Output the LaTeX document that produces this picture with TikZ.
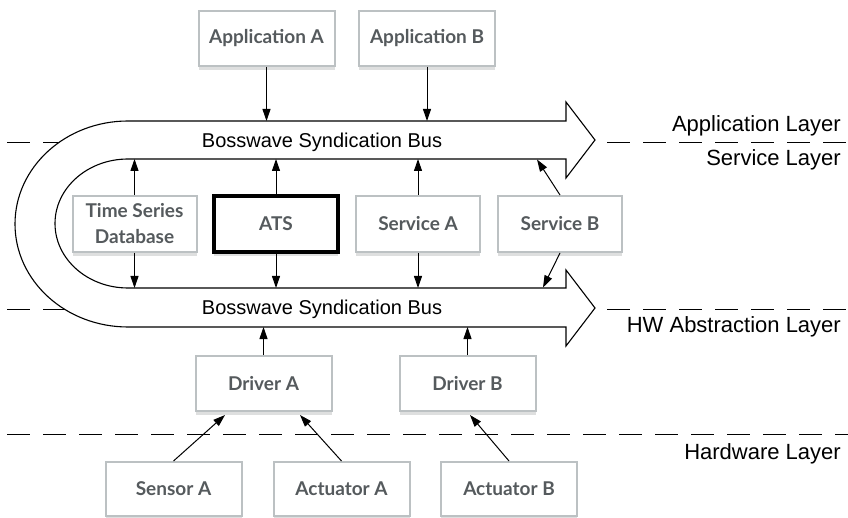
\documentclass[tikz,border=0pt]{standalone}
\usepackage{fontspec}
\setmainfont{Liberation Sans}
\newfontfamily\boxfont{Lato}
\usetikzlibrary{arrows.meta,shadows}
\definecolor{boxgray}{HTML}{BCC1C3}
\definecolor{txtgray}{HTML}{555A5D}
\definecolor{shadgray}{HTML}{DEDFDF}
\begin{document}
\begin{tikzpicture}[x=1pt,y=-1pt,
  blk/.style={draw=boxgray, line width=2pt, fill=white, minimum width=136pt, minimum height=55pt, inner sep=0pt,
    font=\boxfont\bfseries\fontsize{19}{26}\selectfont, text=txtgray, align=center,
    drop shadow={shadow xshift=0pt, shadow yshift=-4pt, fill=shadgray, opacity=1}},
  mid/.style={blk, minimum width=124pt, minimum height=56pt},
  arr/.style={-{Triangle[length=12pt,width=8pt]}, line width=1pt},
  dsh/.style={line width=0.9pt, dash pattern=on 23pt off 13pt},
  lay/.style={font=\fontsize{22}{26}\selectfont, anchor=base east, inner sep=0pt},
  bustxt/.style={font=\fontsize{20}{24}\selectfont, anchor=base, inner sep=0pt}
]
\useasboundingbox (0,0) rectangle (848,518);

% layer separators
\draw[dsh] (7,142) -- (110,142);
\draw[dsh] (607,142) -- (848,142);
\draw[dsh] (7,309.5) -- (110,309.5);
\draw[dsh] (607,309.5) -- (848,309.5);
\draw[dsh] (7,434) -- (848,434);

% U-shaped bus
\draw[line width=1.1pt, fill=white, line join=miter]
  (128,121) -- (566,121) -- (566,102) -- (595,140) -- (566,178) -- (566,159) -- (128,159)
  .. controls (87.7,159) and (55,187.9) .. (55,223.5)
  .. controls (55,259.1) and (87.7,288) .. (128,288)
  -- (566,288) -- (566,270) -- (595,308) -- (566,346) -- (566,327) -- (128,327)
  .. controls (65.6,327) and (15,280.9) .. (15,224)
  .. controls (15,167.1) and (65.6,121) .. (128,121) -- cycle;

\node[bustxt] (bus1) at (322,148) {Bosswave Syndication Bus};
\node[bustxt] (bus2) at (322,315) {Bosswave Syndication Bus};

% layer labels
\node[lay] (l1) at (841,132) {Application Layer};
\node[lay] (l2) at (841,166) {Service Layer};
\node[lay] (l3) at (841,333) {HW Abstraction Layer};
\node[lay] (l4) at (841,459) {Hardware Layer};

% boxes
\node[blk] (appA) at (266.5,38.5) {Application A};
\node[blk] (appB) at (427,38.5) {Application B};
\node[mid] (tsd) at (134.5,224) {Time Series\\Database};
\node[mid, draw=black, line width=4pt] (ats) at (276,224) {ATS};
\node[mid] (srvA) at (418,224) {Service A};
\node[mid] (srvB) at (560,224) {Service B};
\node[blk] (drvA) at (263.5,383.5) {Driver A};
\node[blk] (drvB) at (467.5,383.5) {Driver B};
\node[blk, minimum height=54pt] (senA) at (173.5,489) {Sensor A};
\node[blk, minimum height=54pt] (actA) at (341.5,489) {Actuator A};
\node[blk, minimum height=54pt] (actB) at (509,489) {Actuator B};

% bus attachment points
\coordinate (uA) at (266.5,121);
\coordinate (uB) at (427,121);
\coordinate (uT) at (134.5,159);
\coordinate (uS) at (276,159);
\coordinate (uSA) at (418,159);
\coordinate (uSB) at (537,159.5);
\coordinate (lT) at (134.5,288);
\coordinate (lS) at (276,288);
\coordinate (lSA) at (418,288);
\coordinate (lSB) at (543,287.5);
\coordinate (lDA) at (263.5,327);
\coordinate (lDB) at (467.5,327);
\coordinate (dA1) at (225,415);
\coordinate (dA2) at (300,415);
\coordinate (dB1) at (470,415);

% connectors
\draw[arr] (appA.south) -- (uA);
\draw[arr] (appB.south) -- (uB);
\draw[arr] (tsd.north) -- (uT);
\draw[arr] (ats.north) -- (uS);
\draw[arr] (srvA.north) -- (uSA);
\draw[arr] (srvB.north) -- (uSB);
\draw[arr] (tsd.south) -- (lT);
\draw[arr] (ats.south) -- (lS);
\draw[arr] (srvA.south) -- (lSA);
\draw[arr] (srvB.south) -- (lSB);
\draw[arr] (drvA.north) -- (lDA);
\draw[arr] (drvB.north) -- (lDB);
\draw[arr] (senA.north) -- (dA1);
\draw[arr] (actA.north) -- (dA2);
\draw[arr] (actB.north) -- (dB1);
\end{tikzpicture}
\end{document}
